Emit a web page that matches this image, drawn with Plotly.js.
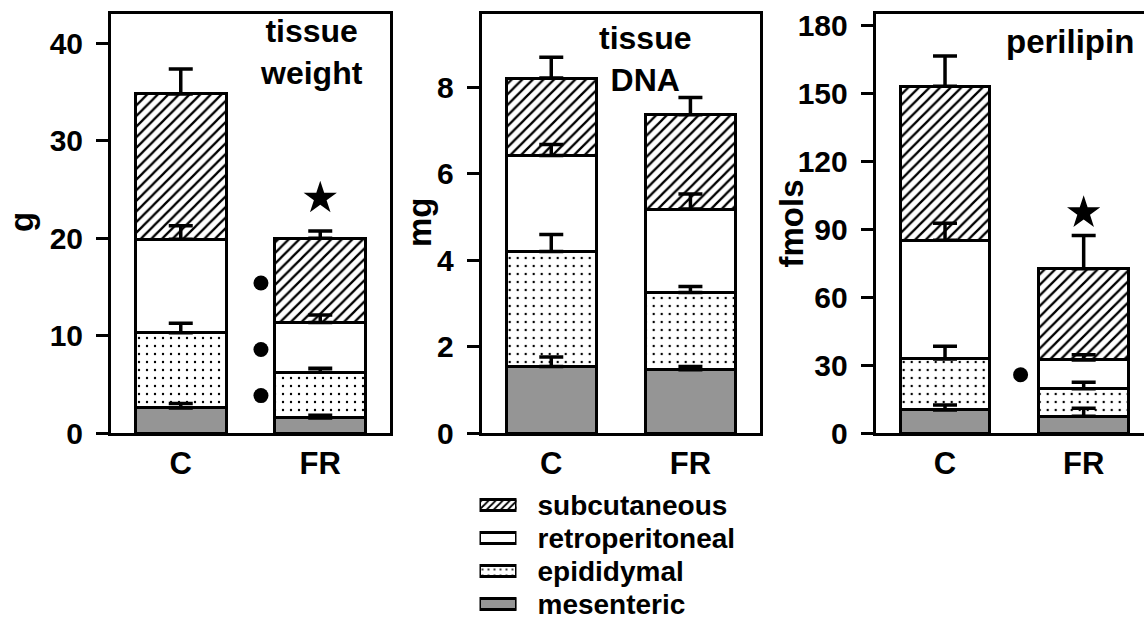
<!DOCTYPE html>
<html><head><meta charset="utf-8">
<script src="https://cdn.plot.ly/plotly-3.0.1.min.js"></script>
<style>html,body{margin:0;padding:0;overflow:hidden;background:#fff}#chart{width:1160px;height:622px}</style>
</head><body><div id="chart"></div>
<script>
// ---------------- data ----------------
const groups = ['C', 'FR'];
const groupPos = [0, 1];
const seriesNames = ['mesenteric', 'epididymal', 'retroperitoneal', 'subcutaneous'];

// tissue weight (g) — segment values, bottom to top
const weightMesenteric = [2.57, 1.54];
const weightEpididymal = [7.71, 4.69];
const weightRetroperitoneal = [9.60, 5.11];
const weightSubcutaneous = [14.92, 8.64];
const weightMesentericSem = [0.47, 0.27];
const weightEpididymalSem = [0.99, 0.41];
const weightRetroperitonealSem = [1.40, 0.76];
const weightSubcutaneousSem = [2.56, 0.75];

// tissue DNA (mg)
const dnaMesenteric = [1.54, 1.46];
const dnaEpididymal = [2.66, 1.79];
const dnaRetroperitoneal = [2.22, 1.93];
const dnaSubcutaneous = [1.79, 2.18];
const dnaMesentericSem = [0.22, 0.08];
const dnaEpididymalSem = [0.39, 0.14];
const dnaRetroperitonealSem = [0.25, 0.35];
const dnaSubcutaneousSem = [0.48, 0.40];

// perilipin (fmols)
const periMesenteric = [10.2, 7.35];
const periEpididymal = [22.5, 12.15];
const periRetroperitoneal = [52.4, 12.8];
const periSubcutaneous = [68.1, 40.3];
const periMesentericSem = [2.2, 3.55];
const periEpididymalSem = [5.6, 2.9];
const periRetroperitonealSem = [7.6, 2.3];
const periSubcutaneousSem = [13.3, 14.7];

// significance marks
const weightStarY = [24.1];
const weightDotY = [15.4, 8.57, 3.84];
const periStarY = [97.3];
const periDotY = [25.7];

// ---------------- styling ----------------
const W = 1160, H = 622;
const FONT = 'Liberation Sans, Arial, Helvetica, sans-serif';
const seriesStyle = {
  mesenteric: {color: '#959595', pattern: {shape: ''}},
  epididymal: {color: '#ffffff', pattern: {shape: '.', fgcolor: '#000', bgcolor: '#fff', size: 8, solidity: 0.07}},
  retroperitoneal: {color: '#ffffff', pattern: {shape: ''}},
  subcutaneous: {color: '#ffffff', pattern: {shape: '/', fgcolor: '#000', bgcolor: '#fff', size: 7.5, solidity: 0.3}}
};
const legendPattern = {
  mesenteric: {shape: ''},
  epididymal: {shape: '.', fgcolor: '#000', bgcolor: '#fff', size: 6, solidity: 0.09},
  retroperitoneal: {shape: ''},
  subcutaneous: {shape: '/', fgcolor: '#000', bgcolor: '#fff', size: 5, solidity: 0.35}
};

const panels = [
  {xa: 'x', ya: 'y', vals: [weightMesenteric, weightEpididymal, weightRetroperitoneal, weightSubcutaneous],
   sems: [weightMesentericSem, weightEpididymalSem, weightRetroperitonealSem, weightSubcutaneousSem],
   starY: weightStarY, dotY: weightDotY, dotX: 0.575, barW: 0.655},
  {xa: 'x2', ya: 'y2', vals: [dnaMesenteric, dnaEpididymal, dnaRetroperitoneal, dnaSubcutaneous],
   sems: [dnaMesentericSem, dnaEpididymalSem, dnaRetroperitonealSem, dnaSubcutaneousSem],
   starY: [], dotY: [], dotX: 0.56, barW: 0.645},
  {xa: 'x3', ya: 'y3', vals: [periMesenteric, periEpididymal, periRetroperitoneal, periSubcutaneous],
   sems: [periMesentericSem, periEpididymalSem, periRetroperitonealSem, periSubcutaneousSem],
   starY: periStarY, dotY: periDotY, dotX: 0.545, barW: 0.645}
];

const traces = [];
panels.forEach(p => {
  seriesNames.forEach((name, i) => {
    const st = seriesStyle[name];
    traces.push({
      type: 'bar', name: name, x: groupPos, y: p.vals[i], xaxis: p.xa, yaxis: p.ya,
      width: p.barW, showlegend: false, hoverinfo: 'skip',
      marker: {color: st.color, pattern: st.pattern, line: {color: '#000', width: 3}}
    });
  });
  // error bars (SEM, upward) at the cumulative top of each segment
  const cum = [0, 0];
  seriesNames.forEach((name, i) => {
    const tops = groupPos.map((g, j) => (cum[j] += p.vals[i][j]));
    traces.push({
      type: 'scatter', mode: 'markers', x: groupPos, y: tops, xaxis: p.xa, yaxis: p.ya,
      marker: {size: 1, opacity: 0}, showlegend: false, hoverinfo: 'skip',
      error_y: {type: 'data', symmetric: false, array: p.sems[i], arrayminus: [0, 0],
                color: '#000', thickness: 3.5, width: 12}
    });
  });
  if (p.starY.length) traces.push({
    type: 'scatter', mode: 'markers', x: p.starY.map(() => 1), y: p.starY, xaxis: p.xa, yaxis: p.ya,
    marker: {symbol: 'star', size: 25, color: '#000'}, showlegend: false, hoverinfo: 'skip'
  });
  if (p.dotY.length) traces.push({
    type: 'scatter', mode: 'markers', x: p.dotY.map(() => p.dotX), y: p.dotY, xaxis: p.xa, yaxis: p.ya,
    marker: {symbol: 'circle', size: 15, color: '#000'}, showlegend: false, hoverinfo: 'skip'
  });
});

// legend drawn as swatches on a small hidden axis (top row = subcutaneous)
const legendOrder = seriesNames.slice().reverse();
legendOrder.forEach((name, i) => {
  traces.push({
    type: 'bar', orientation: 'h', xaxis: 'x4', yaxis: 'y4', name: name,
    x: [1], y: [i], width: 0.36, showlegend: false, hoverinfo: 'skip',
    marker: {color: seriesStyle[name].color, pattern: legendPattern[name], line: {color: '#000', width: 3}}
  });
});

const yDom = [1 - 433 / H, 1 - 14 / H];
function xAxis(l, r, anchor) {
  return {domain: [l / W, r / W], anchor: anchor, range: [-0.5, 1.5], tickvals: groupPos, ticktext: groups,
    showline: true, mirror: true, linewidth: 3, linecolor: '#000', ticks: '', showgrid: false, zeroline: false,
    tickfont: {family: FONT, size: 31, color: '#000', weight: 'bold'}, ticklabelstandoff: 1, fixedrange: true};
}
function yAxis(range, dtick, anchor) {
  return {domain: yDom, anchor: anchor, range: range, tick0: 0, dtick: dtick,
    showline: true, mirror: true, linewidth: 3, linecolor: '#000', ticks: 'outside', ticklen: 12, tickwidth: 3,
    tickcolor: '#000', showgrid: false, zeroline: false,
    tickfont: {family: FONT, size: 30, color: '#000', weight: 'bold'}, ticklabelstandoff: 7, fixedrange: true};
}

function ann(text, px, py, size, angle) {
  return {text: text, xref: 'paper', yref: 'paper', x: px / W, y: 1 - py / H, xanchor: 'center', yanchor: 'middle',
    showarrow: false, textangle: angle || 0, font: {family: FONT, size: size, color: '#000', weight: 'bold'}};
}

// legend rows at y = 505, 538, 571, 604 px (33 px apart)
const legTop = 505 - 0.5 * 33, legBottom = 622;
const layout = {
  width: W, height: H, margin: {l: 0, r: 0, t: 0, b: 0},
  paper_bgcolor: '#fff', plot_bgcolor: 'rgba(0,0,0,0)', barmode: 'stack', showlegend: false,
  xaxis: xAxis(111, 390, 'y'), yaxis: yAxis([0, 43.0], 10, 'x'),
  xaxis2: xAxis(481.7, 760, 'y2'), yaxis2: yAxis([0, 9.69], 2, 'x2'),
  xaxis3: xAxis(875.7, 1153, 'y3'), yaxis3: yAxis([0, 185.1], 30, 'x3'),
  xaxis4: {domain: [479.5 / W, 516.5 / W], anchor: 'y4', range: [0, 1], visible: false, fixedrange: true},
  yaxis4: {domain: [0, (H - legTop) / H], anchor: 'x4', side: 'right',
    range: [3 + (legBottom - 604) / 33, -0.5],
    tickvals: legendOrder.map((n, i) => i), ticktext: legendOrder, ticks: '', showline: false, showgrid: false,
    zeroline: false, tickfont: {family: FONT, size: 28, color: '#000', weight: 'bold'}, ticklabelstandoff: 20,
    ticklabeloverflow: 'allow', fixedrange: true},
  annotations: [
    ann('tissue<br>weight', 311, 52.5, 32),
    ann('tissue<br>DNA', 645, 58.5, 32),
    ann('perilipin', 1070, 42, 33),
    ann('g', 21, 222, 33, -90), ann('mg', 419, 222, 33, -90), ann('fmols', 791, 223.5, 33, -90)
  ]
};

Plotly.newPlot('chart', traces, layout, {displayModeBar: false, staticPlot: true});
</script>
</body></html>
